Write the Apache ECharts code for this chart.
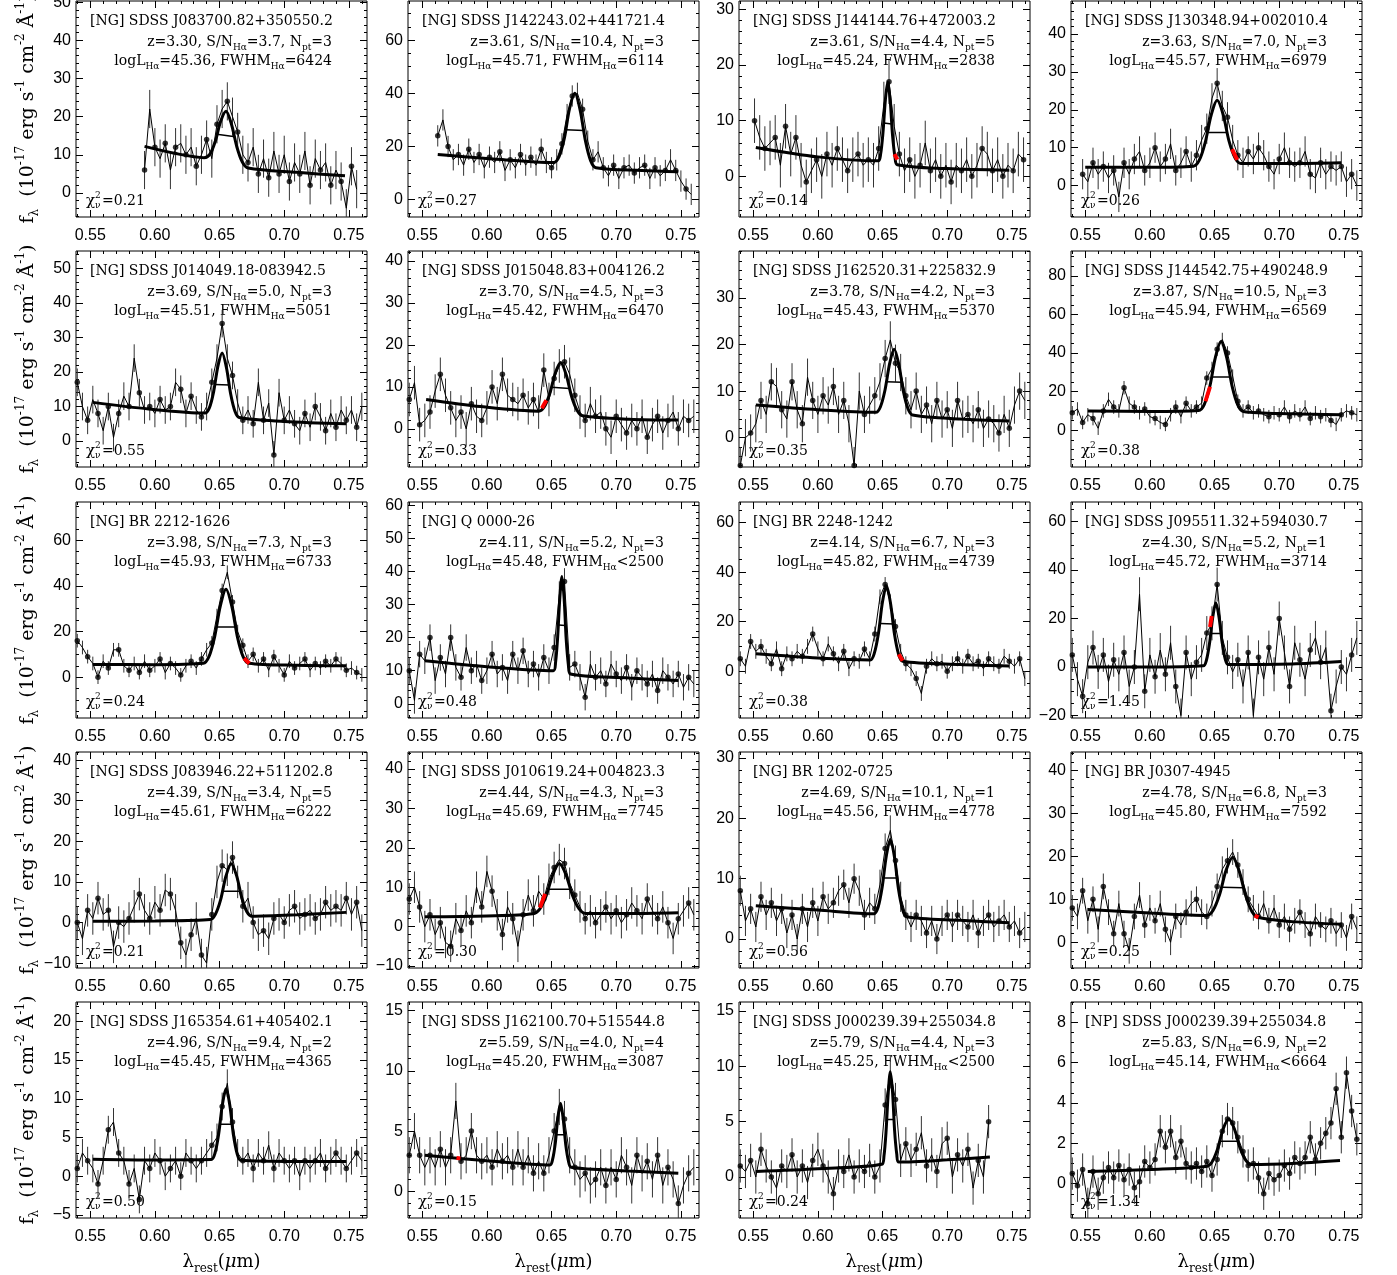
<!DOCTYPE html>
<html>
<head>
<meta charset="utf-8">
<script src="https://cdn.jsdelivr.net/npm/echarts@6/dist/echarts.min.js"></script>
<style>
  html, body { margin: 0; padding: 0; background: #fff; }
  #chart { width: 1397px; height: 1275px; }
</style>
</head>
<body>
<div id="chart"></div>
<script>
// ---- panel annotations ----
const objNames = [
  '[NG] SDSS J083700.82+350550.2', '[NG] SDSS J142243.02+441721.4', '[NG] SDSS J144144.76+472003.2', '[NG] SDSS J130348.94+002010.4',
  '[NG] SDSS J014049.18-083942.5', '[NG] SDSS J015048.83+004126.2', '[NG] SDSS J162520.31+225832.9', '[NG] SDSS J144542.75+490248.9',
  '[NG] BR 2212-1626', '[NG] Q 0000-26', '[NG] BR 2248-1242', '[NG] SDSS J095511.32+594030.7',
  '[NG] SDSS J083946.22+511202.8', '[NG] SDSS J010619.24+004823.3', '[NG] BR 1202-0725', '[NG] BR J0307-4945',
  '[NG] SDSS J165354.61+405402.1', '[NG] SDSS J162100.70+515544.8', '[NG] SDSS J000239.39+255034.8', '[NP] SDSS J000239.39+255034.8'
];
const zVals = ['3.30','3.61','3.61','3.63','3.69','3.70','3.78','3.87','3.98','4.11','4.14','4.30','4.39','4.44','4.69','4.78','4.96','5.59','5.79','5.83'];
const snVals = ['3.7','10.4','4.4','7.0','5.0','4.5','4.2','10.5','7.3','5.2','6.7','5.2','3.4','4.3','10.1','6.8','9.4','4.0','4.4','6.9'];
const nptVals = [3, 3, 5, 3, 3, 3, 3, 3, 3, 3, 3, 1, 5, 3, 1, 3, 2, 4, 3, 2];
const logLVals = ['45.36','45.71','45.24','45.57','45.51','45.42','45.43','45.94','45.93','45.48','45.82','45.72','45.61','45.69','45.56','45.80','45.45','45.20','45.25','45.14'];
const fwhmVals = ['=6424','=6114','=2838','=6979','=5051','=6470','=5370','=6569','=6733','<2500','=4739','=3714','=6222','=7745','=4778','=7592','=4365','=3087','<2500','<6664'];
const chiVals = ['0.21','0.27','0.14','0.26','0.55','0.33','0.35','0.38','0.24','0.48','0.38','1.45','0.21','0.30','0.56','0.25','0.50','0.15','0.24','1.34'];

// ---- axes ----
const X_MIN = 0.539, X_MAX = 0.764;
const xTickLabels = [0.55, 0.60, 0.65, 0.70, 0.75];
const yRanges = [
  [-6.3, 50.3], [-6.5, 74.7], [-7.3, 31.5], [-8.3, 48.7],
  [-7.5, 55], [-9.1, 42.4], [-6.3, 40.1], [-19.1, 92.9],
  [-17.9, 76.8], [-4.3, 61], [-18.9, 68.3], [-21, 68],
  [-11.2, 42], [-10.5, 44.3], [-4.8, 31], [-6, 44.3],
  [-5.4, 22.5], [-2.2, 15.7], [-3.7, 15.8], [-1.7, 9.0]
];
const yTickLabels = [
  [0,10,20,30,40,50], [0,20,40,60], [0,10,20,30], [0,10,20,30,40],
  [0,10,20,30,40,50], [0,10,20,30,40], [0,10,20,30], [0,20,40,60,80],
  [0,20,40,60], [0,10,20,30,40,50,60], [0,20,40,60], [-20,0,20,40,60],
  [-10,0,10,20,30,40], [-10,0,10,20,30,40], [0,10,20,30], [0,10,20,30,40],
  [-5,0,5,10,15,20], [0,5,10,15], [0,5,10,15], [0,2,4,6,8]
];
const yMinorStep = [2,5,2,2, 2,2,2,5, 5,2,5,5, 2,2,2,2, 1,1,1,0.5];

// ---- spectra (flux, 1e-17 erg/s/cm2/A), sampled every 0.004 um from waveStart ----
const WAVE_STEP = 0.004;
const waveStart = [0.592,0.562,0.551,0.548, 0.540,0.540,0.540,0.540, 0.540,0.540,0.540,0.540, 0.540,0.540,0.540,0.540, 0.540,0.540,0.540,0.540];
const flux01 = [6,22,12,9,13,6,12,13,10,12,7,10,14,9,18,22,24,20,16,10,8,12,5,9,4,11,5,10,3,8,5,11,2,9,6,8,2,6,3,-4,7,1];
const flux02 = [24,30,20,15,17,13,19,14,17,12,16,14,18,11,15,12,17,13,16,13,19,14,12,15,21,32,39,40,34,22,15,18,12,9,13,8,12,13,10,12,13,8,12,9,11,15,11,7,4,2];
const flux03 = [10,7,5,6,7,2,9,4,7,2,-1,1,3,0,4,2,5,3,1,3,4,2,3,2,5,13,17,9,4,1,3,0,2,6,1,3,0,2,-1,2,1,3,0,2,5,4,1,3,0,2,1,4,3];
const flux04 = [3,1,6,3,5,2,4,-3,6,3,7,9,4,6,10,5,7,11,4,6,9,5,8,12,15,23,27,21,18,12,8,6,9,7,10,8,5,3,7,10,6,5,6,9,3,2,6,3,5,4,5,1,3,0];
const flux05 = [17,10,6,12,8,3,10,1,8,13,10,24,14,9,10,8,12,9,10,17,15,8,13,9,7,10,17,24,34,24,19,11,6,9,5,17,6,11,-4,14,6,9,5,3,8,4,10,7,3,8,4,9,6,9,4,10];
const flux06 = [7,11,1,2,4,9,13,8,5,2,4,0,6,3,2,5,10,6,13,8,7,6,8,5,7,4,14,7,12,15,16,13,8,4,2,6,3,4,0,-2,3,1,-1,2,0,3,-2,1,3,-1,2,4,0,3,2,3];
const flux07 = [-6,0,1,3,8,5,12,11,6,4,12,6,3,13,8,5,9,7,11,5,8,3,-6,10,5,7,9,12,17,21,16,14,9,6,10,5,7,3,8,4,6,2,8,4,5,3,6,2,4,3,1,5,2,7,10,8];
const flux08 = [9,11,4,8,6,1,10,16,12,10,22,14,12,9,11,7,6,4,3,8,12,7,14,10,12,14,27,32,42,47,40,28,15,10,12,9,10,8,7,9,8,12,7,10,8,12,6,9,7,8,5,3,8,10,9,8];
const flux09 = [16,13,9,6,0,7,4,12,12,5,3,6,2,7,3,5,8,2,6,4,1,5,7,4,8,12,15,27,38,46,33,20,14,7,10,5,8,3,9,5,1,7,4,6,8,3,6,4,7,5,8,6,3,4,2,1];
const flux10 = [10,1,15,13,20,7,14,9,20,11,8,17,10,12,7,10,15,9,11,7,15,10,16,9,12,8,14,10,17,33,37,11,12,8,2,12,8,10,6,12,9,7,11,5,10,8,6,9,4,10,8,6,9,5,8,6];
const flux11 = [5,2,12,8,10,6,3,9,1,7,5,8,6,10,15,9,5,11,7,3,8,1,5,4,9,5,15,30,35,28,18,8,3,1,-3,-9,2,5,3,4,0,3,5,2,6,3,4,1,5,3,2,6,4,2,5,-3];
const flux12 = [5,-5,-12,2,8,-2,5,-6,3,-3,6,-8,0,30,-10,5,-4,7,-3,10,-8,-20,6,-5,2,5,14,18,34,12,4,-2,3,-8,6,-20,4,-5,8,-3,20,6,-8,10,3,-5,7,12,2,8,-18,-8,0,-3,5,12];
const flux13 = [0,-4,3,1,6,2,3,-6,0,-1,1,4,7,3,1,5,3,8,7,3,-5,-8,-3,1,-8,-10,2,10,14,13,16,10,4,6,0,-3,-2,-4,1,2,0,3,4,1,2,3,1,2,5,3,4,3,6,2,5,-2];
const flux14 = [7,10,5,0,3,-2,1,-4,-5,2,-1,4,1,10,5,14,9,3,-2,5,2,-5,3,8,4,9,7,12,15,17,16,11,8,5,2,4,1,3,5,2,4,1,3,6,4,2,7,4,2,5,1,-3,2,4,6,3];
const flux15 = [8,3,5,2,7,4,6,3,5,1,4,0,5,2,6,3,7,5,6,8,9,6,10,8,4,6,5,9,15,18,13,7,4,2,4,3,1,3,0,3,4,2,4,3,2,4,1,3,4,2,3,4,2,3,1,2];
const flux16 = [8,6,12,5,10,3,13,7,2,9,2,-2,6,11,4,8,5,9,3,0,6,4,7,9,10,7,6,9,13,17,19,21,18,14,10,8,6,9,5,8,4,6,3,5,7,4,2,6,4,3,5,2,4,1,6,3];
const flux17 = [1,3,2,1,-1,2,6,7,3,2,-1,1,-3,2,1,3,2,0,1,2,0,3,2,1,2,3,4,5,9,12,7,3,2,3,1,3,2,4,1,3,2,1,2,0,2,1,2,3,1,2,3,2,1,2,3,2];
const flux18 = [3,5,3,2,3,2,3.5,2,3,7.5,2.5,3,5,3,2.5,3,2,3.5,2.5,3,2,3.5,2,3,1.5,2.5,1.5,3,5,7,6,3,2,1,1.5,0.5,1,2,0.5,2,1,3,2,0.5,3,1.5,2.5,1,3,0.5,2,1,-1,0.5,1.5,2];
const flux19 = [1,0.5,1.5,0,2.5,1,0,-1,1,0.5,2,0,1,-0.5,1.5,2.5,1,0,-1.5,1,0.5,2,0,1,0.5,1.5,0,1,6.5,9.5,7,1.5,3,1.5,2.5,4,1,2,0.5,3,3.5,0,2,1,2.5,-1,1.5,0,5];
const flux20 = [0.5,-0.1,0.7,-1,0.6,-0.5,0.3,0.8,0.3,0.9,0.2,0.7,-0.2,0.1,1.1,0.8,1.2,2.6,1.8,2.6,1.3,2.1,1.0,0.8,1.0,0.6,1.1,0.4,1.2,2.6,3.2,3.0,2.3,1.6,0.9,1.0,0.3,-0.5,0.5,0.2,0.4,0.9,0.5,1.3,1.0,1.3,2.3,1.2,2.0,2.5,3.0,4.7,2.3,5.5,3.6,2.2];
// typical 1-sigma error per panel
const sigmas = [5,4,4,4, 4,4,4,3.5, 3,4,3,7, 4,4,2.5,3, 1.8,1.5,1.5,0.8];

// ---- model fits (continuum + broad H-alpha), [wavelength, flux] ----
const fit01 = [[0.592,12.2],[0.615,10.4],[0.638,9.25],[0.6424,10.1],[0.6466,13.4],[0.6508,18.7],[0.655,21.4],[0.6592,18.0],[0.6634,12.05],[0.6676,8.1],[0.672,6.55],[0.71,5.4],[0.747,4.5]];
const fit02 = [[0.562,17.0],[0.605,15.3],[0.6517,14.0],[0.6558,16.2],[0.6599,23.1],[0.6639,34.2],[0.668,40.0],[0.6721,33.7],[0.6762,22.1],[0.6802,14.7],[0.6843,12.0],[0.72,11.0],[0.748,10.5]];
const fit03 = [[0.552,5.2],[0.600,3.5],[0.6466,2.8],[0.6485,4.0],[0.6503,7.8],[0.6522,13.8],[0.654,16.95],[0.6559,13.6],[0.6577,7.4],[0.6596,3.5],[0.6614,2.1],[0.70,1.4],[0.748,1.1]];
const fit04 = [[0.550,4.8],[0.600,4.8],[0.6336,5.1],[0.6382,6.7],[0.6428,11.4],[0.6474,18.6],[0.652,22.5],[0.6566,18.8],[0.6612,11.7],[0.6658,7.3],[0.6704,5.8],[0.71,5.8],[0.748,6.0]];
const fit05 = [[0.552,11.2],[0.595,9.3],[0.6388,8.1],[0.6421,9.6],[0.6454,14.25],[0.6487,21.6],[0.652,25.5],[0.6553,21.3],[0.6586,13.6],[0.6619,8.6],[0.6652,6.8],[0.70,5.7],[0.748,5.0]];
const fit06 = [[0.553,7.0],[0.595,5.3],[0.640,4.2],[0.6443,5.2],[0.6485,8.3],[0.6528,13.2],[0.657,15.8],[0.6613,12.9],[0.6655,7.7],[0.6698,4.35],[0.674,3.1],[0.71,2.3],[0.748,2.1]];
const fit07 = [[0.552,7.0],[0.60,6.0],[0.6448,5.45],[0.6483,6.6],[0.6519,10.25],[0.6555,15.95],[0.659,19.0],[0.6625,15.8],[0.6661,9.95],[0.6697,6.2],[0.6732,4.85],[0.71,4.0],[0.748,3.6]];
const fit08 = [[0.552,10.0],[0.60,9.7],[0.6377,10.2],[0.642,13.3],[0.6464,22.9],[0.6507,37.9],[0.655,46.0],[0.6593,37.8],[0.6636,22.7],[0.668,13.0],[0.6723,9.7],[0.71,8.5],[0.748,8.0]];
const fit09 = [[0.552,5.6],[0.60,5.5],[0.6374,6.1],[0.6418,9.0],[0.6462,17.7],[0.6506,31.2],[0.655,38.5],[0.6594,31.2],[0.6638,17.7],[0.6682,9.0],[0.6726,6.1],[0.71,5.2],[0.748,5.0]];
const fit10 = [[0.552,13.0],[0.60,11.2],[0.6514,10.0],[0.6531,12.5],[0.6547,20.1],[0.6564,32.1],[0.658,38.5],[0.6597,31.9],[0.6613,19.6],[0.663,11.8],[0.6646,9.0],[0.71,7.8],[0.748,7.0]];
const fit11 = [[0.552,7.0],[0.60,5.3],[0.6405,4.55],[0.6436,7.2],[0.6468,15.2],[0.6499,27.8],[0.653,34.5],[0.6561,27.6],[0.6592,15.0],[0.6624,6.8],[0.6655,4.05],[0.71,2.7],[0.748,2.1]];
const fit12 = [[0.552,0.0],[0.60,0.0],[0.6413,0.5],[0.6437,2.8],[0.6461,9.7],[0.6486,20.5],[0.651,26.5],[0.6534,20.7],[0.6559,10.0],[0.6583,3.2],[0.6607,1.0],[0.71,1.3],[0.748,2.3]];
const fit13 = [[0.552,0.3],[0.60,0.4],[0.6427,0.75],[0.6468,2.05],[0.6509,5.7],[0.6549,11.4],[0.659,14.5],[0.6631,11.6],[0.6672,6.1],[0.6712,2.6],[0.6753,1.55],[0.71,1.9],[0.748,2.5]];
const fit14 = [[0.552,2.5],[0.60,2.7],[0.6356,3.25],[0.6407,4.4],[0.6458,7.8],[0.6509,13.1],[0.656,16.0],[0.6611,13.2],[0.6662,7.9],[0.6713,4.5],[0.6764,3.35],[0.71,3.3],[0.748,3.5]];
const fit15 = [[0.552,5.5],[0.60,4.8],[0.6434,4.2],[0.6466,5.3],[0.6497,8.6],[0.6529,13.75],[0.656,16.5],[0.6592,13.6],[0.6623,8.3],[0.6655,4.9],[0.6686,3.7],[0.71,3.1],[0.748,2.7]];
const fit16 = [[0.552,7.6],[0.60,6.8],[0.6438,6.25],[0.6488,7.4],[0.6539,11.1],[0.6589,16.75],[0.664,19.8],[0.669,16.6],[0.6741,10.8],[0.6791,7.05],[0.6842,5.75],[0.71,4.8],[0.748,4.2]];
const fit17 = [[0.552,2.2],[0.60,2.1],[0.6436,2.15],[0.6465,3.0],[0.6493,5.45],[0.6522,9.25],[0.655,11.3],[0.6579,9.2],[0.6607,5.35],[0.6636,2.9],[0.6664,2.05],[0.71,1.9],[0.748,1.9]];
const fit18 = [[0.552,3.0],[0.60,2.55],[0.6488,2.2],[0.6508,2.65],[0.6529,4.0],[0.6549,6.15],[0.657,7.3],[0.659,6.0],[0.661,3.85],[0.6631,2.5],[0.6651,2.0],[0.71,1.7],[0.748,1.5]];
const fit19 = [[0.552,0.5],[0.60,0.75],[0.6494,1.15],[0.6511,1.9],[0.6527,4.1],[0.6544,7.6],[0.656,9.5],[0.6577,7.7],[0.6593,4.2],[0.661,2.05],[0.6626,1.35],[0.70,1.55],[0.733,1.8]];
const fit20 = [[0.552,0.6],[0.60,0.7],[0.6434,0.85],[0.6478,1.05],[0.6522,1.7],[0.6566,2.7],[0.661,3.2],[0.6654,2.7],[0.6698,1.75],[0.6742,1.15],[0.6786,0.95],[0.71,1.0],[0.747,1.15]];

// half-maximum (FWHM) marker: [x1, y1, x2, y2]
const fwhmBars = [
  [0.648,15.4,0.662,14.7], [0.661,26.3,0.675,26.0], [0.651,9.6,0.657,9.4], [0.645,14.0,0.660,14.0],
  [0.646,16.4,0.658,16.2], [0.650,9.9,0.664,9.6], [0.653,12.0,0.665,11.9], [0.648,27.6,0.662,27.6],
  [0.648,22.0,0.663,22.0], [0.6555,23.8,0.6605,23.7], [0.648,19.2,0.659,19.0], [0.647,13.8,0.655,13.8],
  [0.652,7.7,0.665,7.7], [0.648,9.5,0.665,9.5], [0.651,10.1,0.661,10.1], [0.656,12.8,0.672,12.7],
  [0.650,6.7,0.660,6.7], [0.6535,4.7,0.6605,4.7], [0.6535,5.2,0.6585,5.2], [0.654,2.1,0.668,2.1]
];
// masked pieces of the model, drawn in red
const redSegs = [
  null, null, [[0.6592,4.0],[0.6614,3.0]], [[0.6635,9.6],[0.6675,6.8]],
  null, [[0.6425,4.9],[0.646,6.8]], null, [[0.643,15.0],[0.6465,22.5]],
  [[0.669,8.3],[0.673,6.0]], null, [[0.6625,6.8],[0.6655,4.2]], [[0.6465,16.5],[0.6478,21.0]],
  null, [[0.641,4.8],[0.645,8.3]], null, [[0.681,6.2],[0.684,5.8]],
  null, [[0.5765,2.78],[0.5795,2.74]], null, null
];

const fluxes = [flux01,flux02,flux03,flux04,flux05,flux06,flux07,flux08,flux09,flux10,flux11,flux12,flux13,flux14,flux15,flux16,flux17,flux18,flux19,flux20];
const fits = [fit01,fit02,fit03,fit04,fit05,fit06,fit07,fit08,fit09,fit10,fit11,fit12,fit13,fit14,fit15,fit16,fit17,fit18,fit19,fit20];

// ---- layout ----
const SERIF = 'DejaVu Serif';
const SANS = 'Liberation Sans';
const COL_LEFT = [76, 408, 739, 1071];
const ROW_TOP = [1, 251, 502, 752, 1002];
const BOX_W = 291, BOX_H = 216;

function tickRange(lo, hi, step) {
  const out = [];
  for (let k = Math.ceil(lo / step - 1e-9); k * step <= hi + 1e-9; k++) out.push(+(k * step).toFixed(4));
  return out;
}
const xMinorTicks = tickRange(X_MIN, X_MAX, 0.01);

function makeAxis(dim, g, pos, min, max, ticks, len, labelVals, fmt) {
  const ax = {
    type: 'value', gridIndex: g, position: pos, min: min, max: max,
    axisLine: { show: false, onZero: false },
    splitLine: { show: false },
    axisTick: { show: true, inside: true, length: len, customValues: ticks, lineStyle: { color: '#000', width: 1 } },
    axisLabel: { show: false }
  };
  if (labelVals) {
    ax.axisLabel = {
      show: true, customValues: labelVals, formatter: fmt, color: '#000',
      fontFamily: SANS, fontSize: 16, margin: dim === 'x' ? 11 : 5
    };
  }
  return ax;
}

const subRich = {
  s: { fontSize: 9, fontFamily: SERIF, fill: '#000', verticalAlign: 'bottom', lineHeight: 9 }
};
const titleRich = {
  sub: { fontSize: 12, fontFamily: SERIF, fill: '#000', verticalAlign: 'bottom', lineHeight: 12 },
  sup: { fontSize: 12, fontFamily: SERIF, fill: '#000', verticalAlign: 'top', lineHeight: 12 },
  it: { fontSize: 18, fontFamily: SERIF, fill: '#000', fontStyle: 'italic' }
};

const grids = [], xAxes = [], yAxes = [], series = [], graphic = [];

for (let i = 0; i < 20; i++) {
  const col = i % 4, row = Math.floor(i / 4);
  const left = COL_LEFT[col], top = ROW_TOP[row];
  grids.push({ left: left, top: top, width: BOX_W, height: BOX_H, show: true,
    borderColor: '#000', borderWidth: 1, outerBoundsMode: 'none' });

  const [ymin, ymax] = yRanges[i];
  const yMinor = tickRange(ymin, ymax, yMinorStep[i]);
  const fmtY = v => (v < 0 ? '\u2212' : '') + Math.abs(v);

  // box ticks on all four sides, IDL style
  xAxes.push(makeAxis('x', i, 'bottom', X_MIN, X_MAX, xTickLabels, 7, xTickLabels, v => v.toFixed(2)));
  xAxes.push(makeAxis('x', i, 'bottom', X_MIN, X_MAX, xMinorTicks, 3));
  xAxes.push(makeAxis('x', i, 'top', X_MIN, X_MAX, xTickLabels, 7));
  xAxes.push(makeAxis('x', i, 'top', X_MIN, X_MAX, xMinorTicks, 3));
  yAxes.push(makeAxis('y', i, 'left', ymin, ymax, yTickLabels[i], 7, yTickLabels[i], fmtY));
  yAxes.push(makeAxis('y', i, 'left', ymin, ymax, yMinor, 3));
  yAxes.push(makeAxis('y', i, 'right', ymin, ymax, yTickLabels[i], 7));
  yAxes.push(makeAxis('y', i, 'right', ymin, ymax, yMinor, 3));
  const ax = i * 4;

  const flux = fluxes[i];
  const pts = flux.map((f, k) => [+(waveStart[i] + WAVE_STEP * k).toFixed(4), f]);
  const dotStep = i === 19 ? 1 : 2;

  // error bars
  series.push({
    type: 'custom', xAxisIndex: ax, yAxisIndex: ax, silent: true, clip: true,
    data: pts.map(p => [p[0], p[1], sigmas[i]]),
    renderItem: function (params, api) {
      const a = api.coord([api.value(0), api.value(1) - api.value(2)]);
      const b = api.coord([api.value(0), api.value(1) + api.value(2)]);
      return { type: 'line', shape: { x1: a[0], y1: a[1], x2: b[0], y2: b[1] },
        style: { stroke: '#333', lineWidth: 1 } };
    }
  });
  // spectrum
  series.push({
    type: 'line', xAxisIndex: ax, yAxisIndex: ax, data: pts, showSymbol: false, silent: true,
    lineStyle: { color: '#000', width: 1 }
  });
  // binned points
  series.push({
    type: 'scatter', xAxisIndex: ax, yAxisIndex: ax, silent: true, symbolSize: 5.5,
    data: pts.filter((p, k) => k % dotStep === 0), itemStyle: { color: '#000' }
  });
  // model
  series.push({
    type: 'line', xAxisIndex: ax, yAxisIndex: ax, data: fits[i], showSymbol: false, silent: true,
    smooth: 0.3, lineStyle: { color: '#000', width: 3 }
  });
  const fb = fwhmBars[i];
  series.push({
    type: 'line', xAxisIndex: ax, yAxisIndex: ax, data: [[fb[0], fb[1]], [fb[2], fb[3]]],
    showSymbol: false, silent: true, lineStyle: { color: '#000', width: 1.5 }
  });
  if (redSegs[i]) {
    series.push({
      type: 'line', xAxisIndex: ax, yAxisIndex: ax, data: redSegs[i], showSymbol: false, silent: true,
      lineStyle: { color: '#ff0000', width: 4 }
    });
  }

  // annotations
  graphic.push({ type: 'text', x: left + 14, y: top + 20, silent: true,
    style: { text: objNames[i], fontFamily: SERIF, fontSize: 14, fill: '#000', align: 'left', verticalAlign: 'middle' } });
  graphic.push({ type: 'text', x: left + 256, y: top + 41, silent: true,
    style: { text: 'z=' + zVals[i] + ', S/N{s|H\u03b1}=' + snVals[i] + ', N{s|pt}=' + nptVals[i],
      rich: subRich, fontFamily: SERIF, fontSize: 14, lineHeight: 20, fill: '#000', align: 'right', verticalAlign: 'middle' } });
  graphic.push({ type: 'text', x: left + 256, y: top + 60, silent: true,
    style: { text: 'logL{s|H\u03b1}=' + logLVals[i] + ', FWHM{s|H\u03b1}' + fwhmVals[i],
      rich: subRich, fontFamily: SERIF, fontSize: 14, lineHeight: 20, fill: '#000', align: 'right', verticalAlign: 'middle' } });

  const cx = left + 10, cy = top + BOX_H - 16;
  graphic.push({ type: 'text', x: cx, y: cy, silent: true,
    style: { text: '\u03c7', fontFamily: SERIF, fontSize: 15, fill: '#000', align: 'left', verticalAlign: 'middle' } });
  graphic.push({ type: 'text', x: cx + 9, y: cy - 5, silent: true,
    style: { text: '2', fontFamily: SERIF, fontSize: 9, fill: '#000', align: 'left', verticalAlign: 'middle' } });
  graphic.push({ type: 'text', x: cx + 9, y: cy + 5, silent: true,
    style: { text: '\u03bd', fontFamily: SERIF, fontSize: 9, fill: '#000', align: 'left', verticalAlign: 'middle' } });
  graphic.push({ type: 'text', x: cx + 16, y: cy, silent: true,
    style: { text: '=' + chiVals[i], fontFamily: SERIF, fontSize: 14, fill: '#000', align: 'left', verticalAlign: 'middle' } });
}

// y title on every row, x title under the bottom row
for (let r = 0; r < 5; r++) {
  graphic.push({ type: 'text', x: 28, y: ROW_TOP[r] + BOX_H / 2, rotation: Math.PI / 2, silent: true,
    style: { text: 'f{sub|\u03bb}  (10{sup|-17} erg s{sup|-1} cm{sup|-2} \u00c5{sup|-1})', rich: titleRich,
      fontFamily: SERIF, fontSize: 19, lineHeight: 26, fill: '#000', align: 'center', verticalAlign: 'middle' } });
}
for (let c = 0; c < 4; c++) {
  graphic.push({ type: 'text', x: COL_LEFT[c] + BOX_W / 2, y: 1262, silent: true,
    style: { text: '\u03bb{sub|rest}({it|\u03bc}m)', rich: titleRich,
      fontFamily: SERIF, fontSize: 18, lineHeight: 26, fill: '#000', align: 'center', verticalAlign: 'middle' } });
}

const chart = echarts.init(document.getElementById('chart'), null, { renderer: 'canvas' });
chart.setOption({
  animation: false,
  backgroundColor: '#fff',
  grid: grids,
  xAxis: xAxes,
  yAxis: yAxes,
  series: series,
  graphic: graphic
});
</script>
</body>
</html>
